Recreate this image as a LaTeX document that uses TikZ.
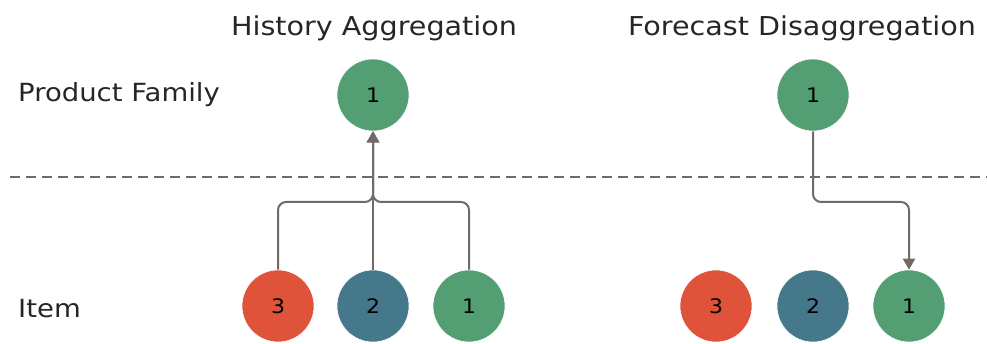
\documentclass[tikz,border=0pt]{standalone}
\usepackage{fontspec}
\setmainfont{DejaVu Sans}[FakeStretch=1.1]
\usetikzlibrary{arrows.meta}
\definecolor{cgreen}{HTML}{549E73}
\definecolor{cred}{HTML}{E0533B}
\definecolor{cteal}{HTML}{44788A}
\definecolor{cline}{HTML}{706B67}
\tikzset{
  ball/.style={circle,minimum size=72pt,inner sep=0pt,draw=white,line width=0.6pt,font=\fontsize{20}{22}\selectfont},
  conn/.style={draw=cline,line width=2pt,rounded corners=8pt,-{Triangle[length=11pt,width=12pt]}},
  ttl/.style={font=\fontsize{26}{30}\selectfont,text=black!85,anchor=base},
  lbl/.style={font=\fontsize{25}{28}\selectfont,text=black!85,anchor=base west,inner sep=0pt}
}
\begin{document}
\begin{tikzpicture}[x=1pt,y=-1pt]
\useasboundingbox (0,0) rectangle (987,344);
\node[ttl] (t1) at (374,36) {History Aggregation};
\node[ttl] (t2) at (802,36) {Forecast Disaggregation};
\node[lbl] (pf) at (18,102) {Product Family};
\node[lbl] (it) at (18,318) {Item};
\draw[cline,line width=1.4pt,dash pattern=on 10pt off 6pt] (10,177) -- (987,177);
\node[ball,fill=cgreen] (a) at (373,95) {1};
\node[ball,fill=cred] (a3) at (278,306) {3};
\node[ball,fill=cteal] (a2) at (373,306) {2};
\node[ball,fill=cgreen] (a1) at (469,306) {1};
\node[ball,fill=cgreen] (b) at (813,95) {1};
\node[ball,fill=cred] (b3) at (716,306) {3};
\node[ball,fill=cteal] (b2) at (813,306) {2};
\node[ball,fill=cgreen] (b1) at (909,306) {1};
\draw[conn] (a3.north) -- (a3.north |- 0,202) -- (a.south |- 0,202) -- (a.south);
\draw[conn] (a1.north) -- (a1.north |- 0,202) -- (a.south |- 0,202) -- (a.south);
\draw[conn] (a2.north) -- (a.south);
\draw[conn] (b.south) -- (b.south |- 0,202) -- (b1.north |- 0,202) -- (b1.north);
\end{tikzpicture}
\end{document}
